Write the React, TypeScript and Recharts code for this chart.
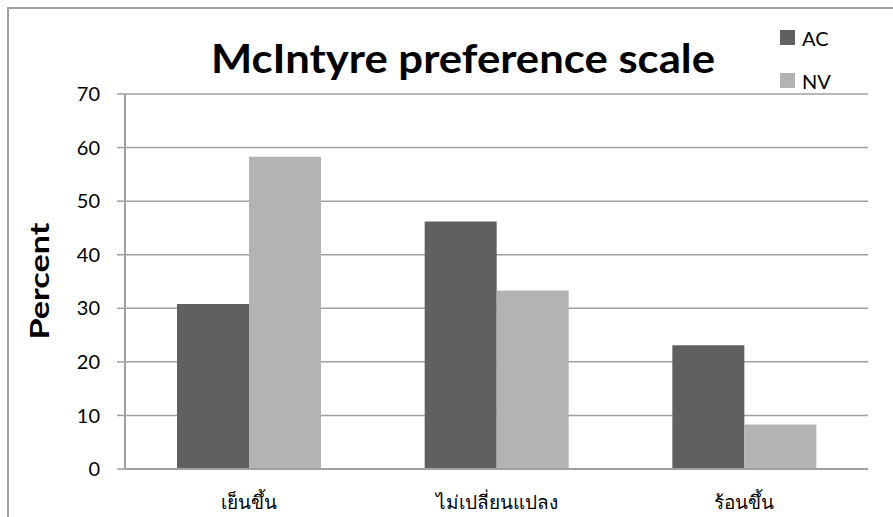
import React from 'react';
import { BarChart, Bar, XAxis, YAxis, CartesianGrid, Legend, Customized } from 'recharts';

const categories = ['เย็นขึ้น', 'ไม่เปลี่ยนแปลง', 'ร้อนขึ้น'];
const acValues = [30.8, 46.2, 23.1];
const nvValues = [58.3, 33.3, 8.3];
const yTicks = [0, 10, 20, 30, 40, 50, 60, 70];
const seriesNames = ['AC', 'NV'];
const seriesColors = ['#606060', '#b3b3b3'];
const titleText = 'McIntyre preference scale';
const yLabelText = 'Percent';

const data = categories.map((c, i) => ({ name: c, AC: acValues[i], NV: nvValues[i] }));

const FONT = 'Lato, "Open Sans", sans-serif';

const renderLegend = () => (
  <div style={{ fontFamily: FONT, fontSize: 20, color: '#000' }}>
    {seriesNames.map((n, i) => (
      <div key={n} style={{ display: 'flex', alignItems: 'center', height: 43 }}>
        <span style={{ display: 'inline-block', width: 15, height: 15, background: seriesColors[i], marginRight: 7 }} />
        <span>{n}</span>
      </div>
    ))}
  </div>
);

const Title = () => (
  <g>
    <text x={463} y={73} textAnchor="middle" fontFamily={FONT} fontWeight={700} fontSize={40}
      textLength={504} lengthAdjust="spacingAndGlyphs" fill="#000">{titleText}</text>
    <text x={49} y={281} textAnchor="middle" fontFamily={FONT} fontWeight={700} fontSize={26}
      textLength={117} lengthAdjust="spacingAndGlyphs" fill="#000" transform="rotate(-90 49 281)">{yLabelText}</text>
  </g>
);

export default function App() {
  return (
    <div style={{ position: 'absolute', left: 0, top: 0, width: 893, height: 517, overflow: 'hidden', background: '#fff' }}>
      <div style={{ position: 'absolute', left: 7, top: 7, width: 1000, height: 1000, borderLeft: '2px solid #a0a0a0', borderTop: '2px solid #a0a0a0' }} />
      <div style={{ position: 'absolute', left: 0, top: 0 }}>
        <BarChart width={893} height={517} data={data}
          margin={{ top: 94, right: 25, bottom: 18, left: 0 }}
          barCategoryGap="21%" barGap={0}>
          <CartesianGrid horizontal vertical={false} stroke="#a0a0a0" strokeWidth={1.5} />
          <XAxis dataKey="name" axisLine={{ stroke: '#a0a0a0', strokeWidth: 2 }} tickLine={false}
            tickSize={0} tickMargin={27} height={30}
            tick={{ fontFamily: FONT, fontSize: 19, fill: '#000' }} />
          <YAxis domain={[0, 70]} ticks={yTicks} width={125} interval={0}
            axisLine={{ stroke: '#a0a0a0', strokeWidth: 2 }} tickLine={{ stroke: '#a0a0a0', strokeWidth: 1.5 }}
            tickSize={8} tickMargin={17}
            tick={{ fontFamily: FONT, fontSize: 20, fill: '#000' }} />
          <Legend layout="vertical" align="center" verticalAlign="middle" content={renderLegend}
            wrapperStyle={{ position: 'absolute', left: 780, top: 16, width: 80, height: 90 }} />
          <Bar dataKey="AC" name="AC" fill={seriesColors[0]} isAnimationActive={false} />
          <Bar dataKey="NV" name="NV" fill={seriesColors[1]} isAnimationActive={false} />
          <Customized component={Title} />
        </BarChart>
      </div>
    </div>
  );
}
